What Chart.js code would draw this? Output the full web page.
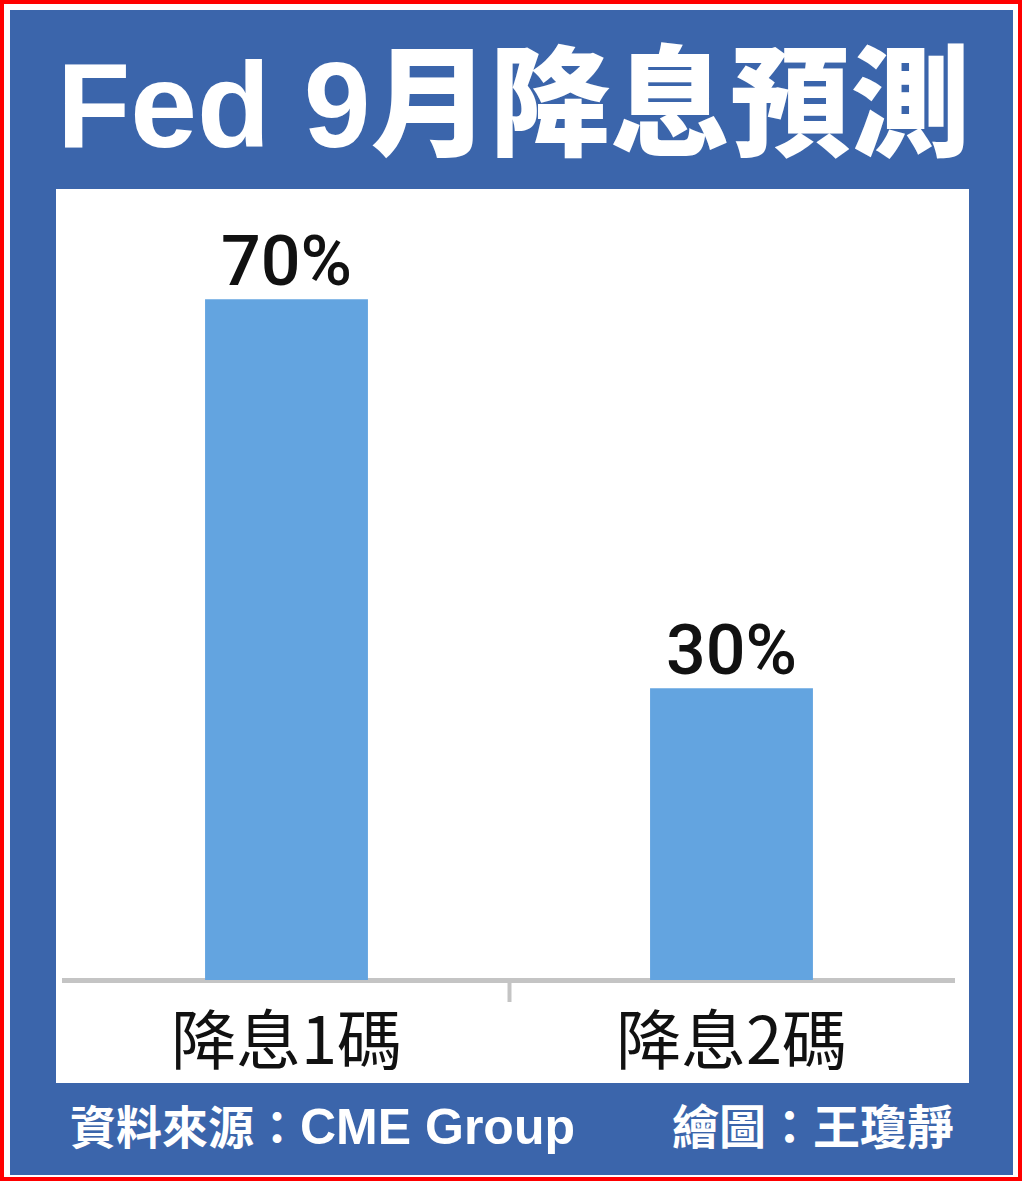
<!DOCTYPE html>
<html>
<head>
<meta charset="utf-8">
<script src="https://cdn.jsdelivr.net/npm/chart.js@4.4.1/dist/chart.umd.min.js"></script>
<style>
  html, body { margin: 0; padding: 0; background: #fff; }
  #frame { position: absolute; left: 0; top: 0; width: 1014px; height: 1173px; border: 4px solid #f00; }
  #bg { position: absolute; left: 10px; top: 10px; width: 1003px; height: 1165px; background: #3b65ab; }
  #panel { position: absolute; left: 56px; top: 189px; width: 913px; height: 894px; background: #fff; }
  .txt { position: absolute; color: #fff; white-space: nowrap; font-family: "Liberation Sans", Arial, "Noto Sans CJK TC", sans-serif; }
  #title { left: 57px; top: 45px; font-size: 120px; line-height: 120px; font-weight: 900; }
  #source { left: 70px; top: 1104px; font-size: 46px; line-height: 46px; font-weight: bold; }
  #source span { font-size: 50px; }
  #author { left: 672px; top: 1104px; font-size: 47px; line-height: 47px; font-weight: bold; }
</style>
</head>
<body>
<div id="frame"></div>
<div id="bg"></div>
<div class="txt" id="title">Fed 9月降息預測</div>
<div id="panel"><canvas id="chart" width="913" height="894"></canvas></div>
<div class="txt" id="source">資料來源：<span>CME Group</span></div>
<div class="txt" id="author">繪圖：王瓊靜</div>
<script>
// chart data
const categories = ['降息1碼', '降息2碼'];
const values = [70, 30];

// draws the "70%" labels above each bar
const valueLabels = {
  id: 'valueLabels',
  afterDatasetsDraw(chart) {
    const ctx = chart.ctx;
    const meta = chart.getDatasetMeta(0);
    ctx.save();
    ctx.font = '500 70px Roboto';
    ctx.fillStyle = '#111';
    ctx.textAlign = 'center';
    ctx.textBaseline = 'alphabetic';
    meta.data.forEach((bar, i) => {
      ctx.fillText(values[i] + '%', bar.x, bar.y - 14);
    });
    ctx.restore();
  }
};

function draw() {
  new Chart(document.getElementById('chart'), {
    type: 'bar',
    data: {
      labels: categories,
      datasets: [{
        data: values,
        backgroundColor: '#63a4e0',
        barPercentage: 0.366,
        categoryPercentage: 1
      }]
    },
    options: {
      responsive: false,
      animation: false,
      layout: { padding: { left: 8, right: 15, top: 13, bottom: 0 } },
      plugins: { legend: { display: false }, tooltip: { enabled: false } },
      scales: {
        y: { display: false, min: 0, max: 80 },
        x: {
          border: { display: true, color: '#c4c4c4', width: 5 },
          grid: {
            display: true,
            drawOnChartArea: false,
            drawTicks: true,
            tickLength: 22,
            tickWidth: 4,
            tickColor: c => c.index === 1 ? '#c4c4c4' : 'rgba(0,0,0,0)'
          },
          ticks: { font: { family: 'Noto Sans CJK TC', size: 65 }, color: '#111', padding: -2 },
          afterFit: s => { s.height = 103; }
        }
      }
    },
    plugins: [valueLabels]
  });
}

Promise.all([
  document.fonts.load('500 70px Roboto', '70%'),
  document.fonts.load('65px "Noto Sans CJK TC"', '降息1碼')
]).then(draw, draw);
</script>
</body>
</html>
